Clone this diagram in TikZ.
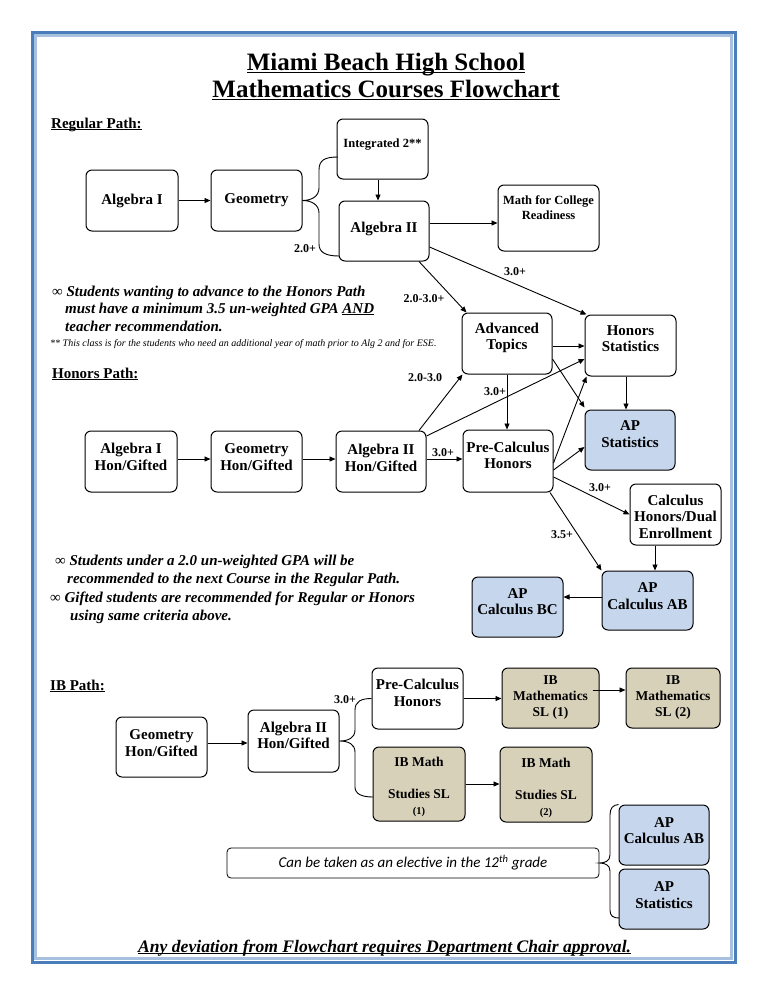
\documentclass[tikz,border=0pt]{standalone}
\usepackage{fontspec}
\setmainfont{Liberation Serif}
\newfontfamily\carl{Carlito}
\usetikzlibrary{arrows.meta}
\definecolor{apblue}{HTML}{C6D6EC}
\definecolor{ibtan}{HTML}{D8D1BA}
\definecolor{framedark}{HTML}{4A7EBB}
\definecolor{framelight}{HTML}{A7C0DE}
\newcommand{\myul}[1]{\leavevmode\setbox0=\hbox{#1}\rlap{\rule[-0.12em]{\wd0}{0.06em}}\box0}
\tikzset{
 box/.style={draw, rounded corners=6pt, line width=1pt, inner sep=0pt, minimum width=91, minimum height=61},
 btxt/.style={align=center, font=\fontsize{15}{16.5}\selectfont\bfseries, inner sep=0pt},
 stxt/.style={align=center, font=\fontsize{12.5}{15}\selectfont\bfseries, inner sep=0pt},
 lab/.style={font=\fontsize{12}{14}\selectfont\bfseries, inner sep=0pt},
 arr/.style={-{Triangle[length=6pt,width=5pt]}, line width=0.9pt},
 conn/.style={line width=0.9pt},
 apbox/.style={box, fill=apblue},
 ibbox/.style={box, fill=ibtan},
 note/.style={anchor=base west, inner sep=0pt, font=\fontsize{15}{17.5}\selectfont\bfseries\itshape},
 head/.style={anchor=base west, inner sep=0pt, font=\fontsize{15}{17}\selectfont\bfseries},
}
\begin{document}
\begin{tikzpicture}[x=1pt,y=-1pt]
\useasboundingbox (0,0) rectangle (768,994);
\fill[white] (0,0) rectangle (768,994);
% frame
\draw[framedark, line width=3pt] (32,32) rectangle (735,962);
\draw[framelight, line width=3pt] (35.5,35.5) rectangle (731.5,958.5);
% title
\node[anchor=base, inner sep=0pt, font=\fontsize{25}{27}\selectfont\bfseries] (t1) at (386,70) {\myul{Miami Beach High School}};
\node[anchor=base, inner sep=0pt, font=\fontsize{25}{27}\selectfont\bfseries] (t2) at (386,97) {\myul{Mathematics Courses Flowchart}};
% headings
\node[head] (hreg) at (51,128) {\myul{Regular Path:}};
\node[head] (hhon) at (52,378) {\myul{Honors Path:}};
\node[head] (hib) at (50,690) {\myul{IB Path:}};

% ---------- Regular path
\node[box, minimum width=92] (alg1) at (132,200.5) {};
\node[btxt] at (alg1.center) {Algebra I};
\node[box] (geo) at (256.5,200.5) {};
\node[btxt] at (geo.center) {Geometry};
\node[box, minimum height=60] (int2) at (382.5,149) {};
\node[stxt] at ([yshift=4]int2.center) {Integrated 2**};
\node[box, minimum width=90, minimum height=60] (alg2) at (384,231) {};
\node[btxt] at ([yshift=2]alg2.center) {Algebra II};
\node[box, minimum width=101, minimum height=66] (mcr) at (548.5,218) {};
\node[stxt] at ([yshift=10.5]mcr.center) {Math for College\\Readiness};
\node[box, minimum width=90] (adv) at (507,343.5) {};
\node[btxt] at ([yshift=5.5]adv.center) {Advanced\\Topics};
\node[box] (hstat) at (630.5,345.5) {};
\node[btxt] at ([yshift=7]hstat.center) {Honors\\Statistics};
\node[apbox, minimum width=90, minimum height=60] (apstat) at (630,440) {};
\node[btxt] at ([yshift=6]apstat.center) {AP\\Statistics};

% ---------- Honors path
\node[box, minimum width=92] (alg1h) at (131,461.5) {};
\node[btxt] at ([yshift=4.5]alg1h.center) {Algebra I\\Hon/Gifted};
\node[box] (geoh) at (256.5,461.5) {};
\node[btxt] at ([yshift=4.5]geoh.center) {Geometry\\Hon/Gifted};
\node[box, minimum width=90] (alg2h) at (381,461.5) {};
\node[btxt] at ([yshift=3.5]alg2h.center) {Algebra II\\Hon/Gifted};
\node[box, minimum width=90, minimum height=62] (pch) at (508,461) {};
\node[btxt] at ([yshift=5.5]pch.center) {Pre-Calculus\\Honors};
\node[box] (calch) at (675.5,514.5) {};
\node[btxt] at ([yshift=-2]calch.center) {Calculus\\Honors/Dual\\Enrollment};
\node[apbox, minimum height=59] (apab) at (647.5,600.5) {};
\node[btxt] at ([yshift=4.5]apab.center) {AP\\Calculus AB};
\node[apbox, minimum height=60] (apbc) at (517.5,607) {};
\node[btxt] at ([yshift=5.5]apbc.center) {AP\\Calculus BC};

% ---------- IB path
\node[box, minimum height=60] (geoib) at (161.5,747) {};
\node[btxt] at ([yshift=4]geoib.center) {Geometry\\Hon/Gifted};
\node[box, minimum height=62] (alg2ib) at (293.5,741) {};
\node[btxt] at ([yshift=5.5]alg2ib.center) {Algebra II\\Hon/Gifted};
\node[box] (pcib) at (417.5,698.5) {};
\node[btxt] at ([yshift=5.5]pcib.center) {Pre-Calculus\\Honors};
\node[ibbox, minimum width=97, minimum height=60] (sl1) at (550.5,698) {};
\node[stxt, font=\fontsize{13.5}{16}\selectfont\bfseries] at (sl1.center) {IB\\Mathematics\\SL (1)};
\node[ibbox, minimum width=94, minimum height=60] (sl2) at (673,698) {};
\node[stxt, font=\fontsize{13.5}{16}\selectfont\bfseries] at (sl2.center) {IB\\Mathematics\\SL (2)};
\node[ibbox, minimum width=92, minimum height=74] (st1) at (419,784) {};
\node[stxt, font=\fontsize{13.5}{16}\selectfont\bfseries] at ([yshift=-3]st1.center) {IB Math\\[16pt]Studies SL\\{\fontsize{10.5}{12}\selectfont (1)}};
\node[ibbox, minimum width=92, minimum height=75] (st2) at (546,784.5) {};
\node[stxt, font=\fontsize{13.5}{16}\selectfont\bfseries] at ([yshift=-3]st2.center) {IB Math\\[16pt]Studies SL\\{\fontsize{10.5}{12}\selectfont (2)}};
\node[draw, rounded corners=4pt, line width=0.8pt, minimum width=372, minimum height=30, inner sep=0pt] (elec) at (413,863) {};
\node[inner sep=0pt, font=\fontsize{15}{17}\selectfont\carl\itshape] at (elec.center) {Can be taken as an elective in the 12\textsuperscript{th} grade};
\node[apbox, minimum width=90, minimum height=60] (apab2) at (664,835) {};
\node[btxt] at ([yshift=4.5]apab2.center) {AP\\Calculus AB};
\node[apbox, minimum width=90, minimum height=60] (apst2) at (664,899) {};
\node[btxt] at ([yshift=4]apst2.center) {AP\\Statistics};

% ---------- connectors: regular
\draw[arr] (alg1.east) -- (geo.west);
\coordinate (rb1) at (338,157);
\coordinate (rb2) at (339,256);
\draw[conn] (rb1) .. controls (325,157) and (319,160) .. (319,170) -- (319,188) .. controls (319,196) and (312,200.5) .. (geo.east) .. controls (312,200.5) and (319,205) .. (319,213) -- (319,244) .. controls (319,252) and (325,256) .. (rb2);
\draw[arr] ([xshift=-4.5]int2.south) -- ([xshift=-4.5]int2.south |- alg2.north);
\draw[arr] ([yshift=8]alg2.east) -- ([yshift=8]alg2.east -| mcr.west);
\draw[arr] ([yshift=-16]alg2.east) -- ([xshift=2]hstat.north west);
\draw[arr] ([xshift=35]alg2.south) -- ([xshift=5]adv.north west);
\draw[arr] ([yshift=-2.5]adv.east) -- ([yshift=-2.5]adv.east -| hstat.west);
\draw[arr] ([yshift=-15.5]adv.east) -- ([yshift=2]apstat.north west);
\draw[arr] ([xshift=-4.5]hstat.south) -- ([xshift=-4.5]hstat.south |- apstat.north);
\draw[arr] (adv.south) -- (adv.south |- pch.north);

% ---------- connectors: honors
\draw[arr] ([yshift=2.5]alg1h.east) -- ([yshift=2.5]geoh.west);
\draw[arr] ([yshift=2.5]geoh.east) -- ([yshift=2.5]alg2h.west);
\draw[arr] ([yshift=2.5]alg2h.east) -- ([yshift=2.5]alg2h.east -| pch.west);
\draw[arr] ([xshift=38]alg2h.north) -- ([xshift=1]adv.south west);
\draw[arr] ([yshift=25.5]alg2h.east) -- ([yshift=-13.5]hstat.west);
\draw[arr] ([yshift=-2]pch.east) -- ([xshift=2]hstat.south west);
\draw[arr] ([yshift=-9]pch.east) -- ([yshift=-7]apstat.west);
\draw[arr] ([yshift=-16]pch.east) -- (calch.west);
\draw[arr] ([xshift=42]pch.south) -- (apab.north west);
\draw[arr] ([xshift=-20.5]calch.south) -- ([xshift=-20.5]calch.south |- apab.north);
\draw[arr] ([yshift=3.5]apab.west) -- ([yshift=3.5]apab.west -| apbc.east);

% ---------- connectors: IB
\draw[arr] ([yshift=4]geoib.east) -- ([yshift=4]geoib.east -| alg2ib.west);
\coordinate (ib2) at (373,797);
\draw[conn] (pcib.west) .. controls (362,698.5) and (355,701) .. (355,710) -- (355,730) .. controls (355,738) and (348,741) .. (alg2ib.east) .. controls (348,741) and (355,744) .. (355,752) -- (355,787) .. controls (355,794) and (362,797) .. (ib2);
\draw[arr] (pcib.east) -- (pcib.east -| sl1.west);
\draw[arr] ([xshift=-7,yshift=8]sl1.east) -- ([yshift=8]sl1.east -| sl2.west);
\draw[arr] (st1.east) -- (st1.east -| st2.west);
\coordinate (eb2) at (619,918);
\draw[conn] (apab2.north west) .. controls (613,805) and (610,808) .. (610,815) -- (610,855) .. controls (610,861) and (605,863) .. (elec.east) .. controls (605,863) and (610,865) .. (610,871) -- (610,910) .. controls (610,916) and (613,918) .. (eb2);

% ---------- connector labels
\node[lab] at (305,249) {2.0+};
\node[lab] at (515,272) {3.0+};
\node[lab] at (424,299) {2.0-3.0+};
\node[lab] at (495,392) {3.0+};
\node[lab] at (425,378) {2.0-3.0};
\node[lab] at (443,453) {3.0+};
\node[lab] at (600,488) {3.0+};
\node[lab] at (562,535) {3.5+};
\node[lab] at (345,700) {3.0+};

% ---------- notes
\node[note] (n1) at (52,296) {{\mdseries\upshape ∞} Students wanting to advance to the Honors Path};
\node[note] (n2) at (65,313.5) {must have a minimum 3.5 un-weighted GPA \myul{AND}};
\node[note] (n3) at (65,331) {teacher recommendation.};
\node[anchor=base west, inner sep=0pt, font=\fontsize{10}{11}\selectfont\itshape] (fn) at (50,346) {** This class is for the students who need an additional year of math prior to Alg 2 and for ESE.};
\node[note] (n4) at (55,565) {{\mdseries\upshape ∞} Students under a 2.0 un-weighted GPA will be};
\node[note] (n5) at (67,583) {recommended to the next Course in the Regular Path.};
\node[note] (n6) at (50,602) {{\mdseries\upshape ∞} Gifted students are recommended for Regular or Honors};
\node[note] (n7) at (70,620) {using same criteria above.};
\node[anchor=base west, inner sep=0pt, font=\fontsize{17.6}{20}\selectfont\bfseries\itshape] (foot) at (138,952) {\myul{Any deviation from Flowchart requires Department Chair approval.}};
\end{tikzpicture}
\end{document}
